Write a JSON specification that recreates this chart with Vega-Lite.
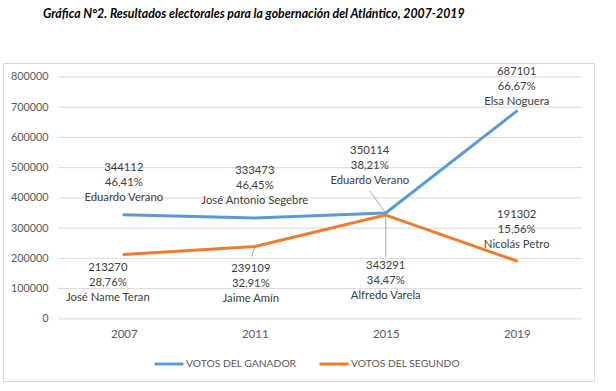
{
  "$schema": "https://vega.github.io/schema/vega-lite/v6.json",
  "width": 591,
  "height": 318,
  "autosize": {"type": "none"},
  "padding": {"left": 3, "top": 63, "right": 22, "bottom": 10},
  "title": {
    "text": "Gráfica N°2. Resultados electorales para la gobernación del Atlántico, 2007-2019",
    "font": "Lato",
    "fontStyle": "italic",
    "fontWeight": "bold",
    "fontSize": 12.3,
    "color": "#000000",
    "anchor": "start",
    "dx": 40,
    "offset": 43
  },
  "config": {
    "font": "Lato",
    "view": {"stroke": "#D9D9D9", "strokeWidth": 1},
    "axis": {"title": null, "grid": false, "domain": false, "ticks": false, "labelPadding": 0, "labelFont": "Lato", "labelColor": "#595959"}
  },
  "datasets": {
    "votos": [
      {"year": 2007, "serie": "VOTOS DEL GANADOR", "votos": 344112, "pct": "46,41%", "candidato": "Eduardo Verano"},
      {"year": 2011, "serie": "VOTOS DEL GANADOR", "votos": 333473, "pct": "46,45%", "candidato": "José Antonio Segebre"},
      {"year": 2015, "serie": "VOTOS DEL GANADOR", "votos": 350114, "pct": "38,21%", "candidato": "Eduardo Verano"},
      {"year": 2019, "serie": "VOTOS DEL GANADOR", "votos": 687101, "pct": "66,67%", "candidato": "Elsa Noguera"},
      {"year": 2007, "serie": "VOTOS DEL SEGUNDO", "votos": 213270, "pct": "28,76%", "candidato": "José Name Teran"},
      {"year": 2011, "serie": "VOTOS DEL SEGUNDO", "votos": 239109, "pct": "32,91%", "candidato": "Jaime Amín"},
      {"year": 2015, "serie": "VOTOS DEL SEGUNDO", "votos": 343291, "pct": "34,47%", "candidato": "Alfredo Varela"},
      {"year": 2019, "serie": "VOTOS DEL SEGUNDO", "votos": 191302, "pct": "15,56%", "candidato": "Nicolás Petro"}
    ],
    "grid": [
      {"v": 0}, {"v": 100000}, {"v": 200000}, {"v": 300000}, {"v": 400000},
      {"v": 500000}, {"v": 600000}, {"v": 700000}, {"v": 800000}
    ]
  },
  "layer": [
    {
      "data": {"name": "grid"},
      "mark": {"type": "rule", "color": "#D9D9D9", "strokeWidth": 1},
      "encoding": {
        "y": {
          "field": "v",
          "type": "quantitative",
          "axis": {
            "values": [0, 100000, 200000, 300000, 400000, 500000, 600000, 700000, 800000],
            "format": "d",
            "offset": -45,
            "labelFontSize": 10.8
          }
        },
        "x": {
          "datum": 2005,
          "type": "quantitative",
          "axis": {
            "values": [2007, 2011, 2015, 2019],
            "format": "d",
            "offset": -53,
            "labelFontSize": 11.5
          }
        },
        "x2": {"datum": 2021}
      }
    },
    {
      "data": {"name": "votos"},
      "transform": [{"calculate": "[format(datum.votos, 'd'), datum.pct, datum.candidato]", "as": "etiqueta"}],
      "encoding": {
        "x": {
          "field": "year",
          "type": "quantitative",
          "scale": {"domain": [2003.31, 2021.36], "nice": false, "zero": false},
          "axis": {
            "values": [2007, 2011, 2015, 2019],
            "format": "d",
            "offset": -53,
            "labelFontSize": 11.5
          }
        },
        "y": {
          "field": "votos",
          "type": "quantitative",
          "scale": {"domain": [-205400, 846100], "nice": false, "zero": false},
          "axis": {
            "values": [0, 100000, 200000, 300000, 400000, 500000, 600000, 700000, 800000],
            "format": "d",
            "offset": -45,
            "labelFontSize": 10.8
          }
        }
      },
      "layer": [
        {
          "transform": [{"filter": "datum.year == 2011 && datum.serie == 'VOTOS DEL SEGUNDO'"}],
          "mark": {"type": "rule", "color": "#A6A6A6", "strokeWidth": 1, "x2Offset": -3, "y2Offset": 10},
          "encoding": {"x2": {"field": "year"}, "y2": {"field": "votos"}}
        },
        {
          "transform": [{"filter": "datum.year == 2015 && datum.serie == 'VOTOS DEL SEGUNDO'"}],
          "mark": {"type": "rule", "color": "#A6A6A6", "strokeWidth": 1, "y2Offset": 42},
          "encoding": {"x2": {"field": "year"}, "y2": {"field": "votos"}}
        },
        {
          "transform": [{"filter": "datum.year == 2015 && datum.serie == 'VOTOS DEL GANADOR'"}],
          "mark": {"type": "rule", "color": "#A6A6A6", "strokeWidth": 1, "x2Offset": -16, "y2Offset": -22},
          "encoding": {"x2": {"field": "year"}, "y2": {"field": "votos"}}
        },
        {
          "mark": {"type": "line", "strokeWidth": 3, "strokeCap": "round", "strokeJoin": "round"},
          "encoding": {
            "color": {
              "field": "serie",
              "type": "nominal",
              "scale": {"domain": ["VOTOS DEL GANADOR", "VOTOS DEL SEGUNDO"], "range": ["#5B9BD5", "#ED7D31"]},
              "legend": {
                "title": null,
                "orient": "none",
                "legendX": 150,
                "legendY": 285,
                "direction": "horizontal",
                "symbolType": "stroke",
                "symbolSize": 841,
                "symbolStrokeWidth": 3,
                "labelFont": "Lato",
                "labelFontSize": 10.3,
                "labelColor": "#595959",
                "labelOffset": 1,
                "columnPadding": 16
              }
            }
          }
        },
        {
          "transform": [{"filter": "datum.serie == 'VOTOS DEL GANADOR' && (datum.year == 2007 || datum.year == 2011)"}],
          "mark": {"type": "text", "fontSize": 11.3, "lineHeight": 15, "color": "#404040", "align": "center", "baseline": "middle", "dy": -47},
          "encoding": {"text": {"field": "etiqueta"}}
        },
        {
          "transform": [{"filter": "datum.serie == 'VOTOS DEL GANADOR' && datum.year == 2015"}],
          "mark": {"type": "text", "fontSize": 11.3, "lineHeight": 15, "color": "#404040", "align": "center", "baseline": "middle", "dy": -61.5, "dx": -16},
          "encoding": {"text": {"field": "etiqueta"}}
        },
        {
          "transform": [{"filter": "datum.serie == 'VOTOS DEL GANADOR' && datum.year == 2019"}],
          "mark": {"type": "text", "fontSize": 11.3, "lineHeight": 15, "color": "#404040", "align": "center", "baseline": "middle", "dy": -39.5},
          "encoding": {"text": {"field": "etiqueta"}}
        },
        {
          "transform": [{"filter": "datum.serie == 'VOTOS DEL SEGUNDO' && datum.year == 2007"}],
          "mark": {"type": "text", "fontSize": 11.3, "lineHeight": 15, "color": "#404040", "align": "center", "baseline": "middle", "dy": 14, "dx": -16},
          "encoding": {"text": {"field": "etiqueta"}}
        },
        {
          "transform": [{"filter": "datum.serie == 'VOTOS DEL SEGUNDO' && datum.year == 2011"}],
          "mark": {"type": "text", "fontSize": 11.3, "lineHeight": 15, "color": "#404040", "align": "center", "baseline": "middle", "dy": 22, "dx": -4},
          "encoding": {"text": {"field": "etiqueta"}}
        },
        {
          "transform": [{"filter": "datum.serie == 'VOTOS DEL SEGUNDO' && datum.year == 2015"}],
          "mark": {"type": "text", "fontSize": 11.3, "lineHeight": 15, "color": "#404040", "align": "center", "baseline": "middle", "dy": 50.5},
          "encoding": {"text": {"field": "etiqueta"}}
        },
        {
          "transform": [{"filter": "datum.serie == 'VOTOS DEL SEGUNDO' && datum.year == 2019"}],
          "mark": {"type": "text", "fontSize": 11.3, "lineHeight": 15, "color": "#404040", "align": "center", "baseline": "middle", "dy": -46.5},
          "encoding": {"text": {"field": "etiqueta"}}
        }
      ]
    }
  ]
}
